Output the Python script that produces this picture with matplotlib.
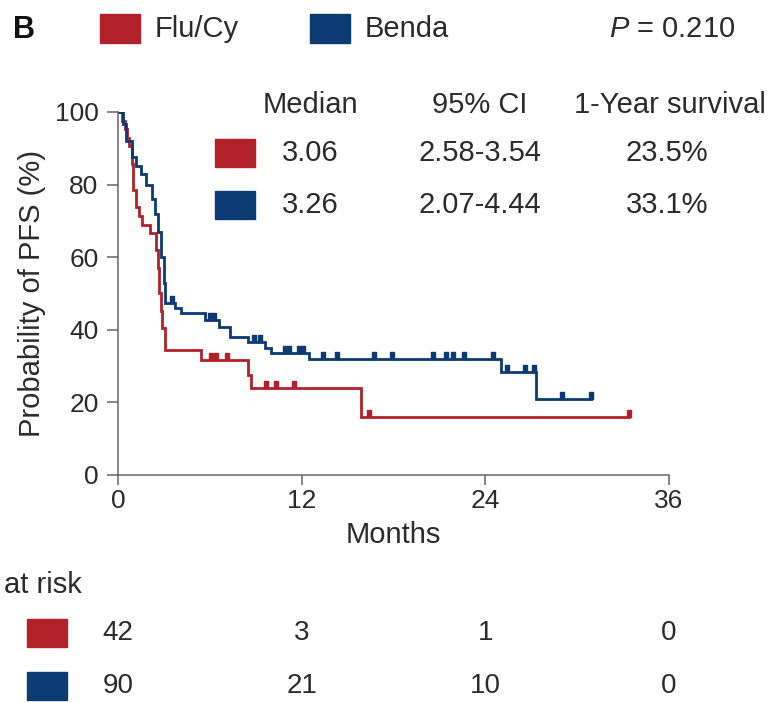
import numpy as np
import matplotlib.pyplot as plt
from matplotlib.path import Path
from matplotlib.patches import Rectangle
from matplotlib.transforms import blended_transform_factory

plt.rcParams['font.family'] = ['Liberation Sans', 'DejaVu Sans']
plt.rcParams['mathtext.fontset'] = 'custom'
plt.rcParams['mathtext.it'] = 'Liberation Sans:italic'
plt.rcParams['mathtext.rm'] = 'Liberation Sans'

RED = '#b2212a'
BLUE = '#0c3a72'
TXT = '#2b2b2b'

# Kaplan-Meier steps (months, % PFS)
flu_t = [0, 0.25, 0.45, 0.6, 0.75, 0.9, 0.95, 1.2, 1.4, 1.6, 2.1, 2.5, 2.6, 2.7, 2.8, 2.9, 3.1, 5.4, 8.5, 8.7, 15.9, 33.4]
flu_s = [100, 97.6, 95.2, 92.9, 90.5, 85.7, 78.6, 73.8, 71.4, 69.0, 66.7, 61.9, 57.1, 50.0, 45.2, 40.5, 34.4, 31.7, 27.5, 24.0, 16.0, 16.0]
flu_cens = [6.1, 6.4, 7.1, 9.7, 10.3, 11.5, 16.4, 33.4]

ben_t = [0, 0.3, 0.5, 0.9, 1.2, 1.5, 1.8, 2.2, 2.4, 2.6, 2.8, 3.0, 3.1, 3.7, 4.1, 5.7, 6.6, 7.3, 8.5, 9.6, 10.0, 12.5, 25.0, 27.3, 30.9]
ben_s = [100, 96.7, 92.0, 87.6, 85.0, 83.0, 80.0, 76.0, 72.0, 67.0, 60.0, 53.0, 47.3, 46.0, 44.6, 42.7, 40.8, 38.0, 36.6, 35.0, 33.6, 31.9, 28.4, 21.0, 21.0]
ben_cens = [3.5, 6.0, 6.3, 8.9, 9.3, 10.9, 11.2, 11.8, 12.1, 13.4, 14.3, 16.7, 17.9, 20.6, 21.4,
            21.9, 22.6, 24.5, 25.4, 26.6, 27.2, 29.0, 30.9]

groups = ['Flu/Cy', 'Benda']
medians = ['3.06', '3.26']
ci95 = ['2.58-3.54', '2.07-4.44']
one_year = ['23.5%', '33.1%']
risk_times = [0, 12, 24, 36]
risk_flu = [42, 3, 1, 0]
risk_ben = [90, 21, 10, 0]
p_value = '0.210'

W, H = 769, 702
fig = plt.figure(figsize=(W / 100, H / 100), dpi=100)


def fx(px):
    return px / W


def fy(py):
    return 1 - py / H


ax = fig.add_axes([fx(118), fy(475), (669 - 118) / W, (475 - 112) / H])


def surv_at(t_steps, s_steps, t):
    idx = np.searchsorted(t_steps, t, side='right') - 1
    return np.asarray(s_steps)[idx]


# censor tick: small block sitting on top of the line
cens_marker = Path([(-0.35, 0), (0.35, 0), (0.35, 1), (-0.35, 1), (-0.35, 0)],
                   [Path.MOVETO, Path.LINETO, Path.LINETO, Path.LINETO, Path.CLOSEPOLY])

for t, s, c, col in [(flu_t, flu_s, flu_cens, RED), (ben_t, ben_s, ben_cens, BLUE)]:
    ax.step(t, s, where='post', color=col, lw=2.0, solid_joinstyle='miter')
    ax.plot(c, surv_at(t, s, c), ls='none', marker=cens_marker, ms=10,
            color=col, mec=col)

ax.set_xlim(0, 36)
ax.set_ylim(0, 100)
ax.set_xticks([0, 12, 24, 36])
ax.set_yticks([0, 20, 40, 60, 80, 100])
for side in ['top', 'right']:
    ax.spines[side].set_visible(False)
for side in ['left', 'bottom']:
    ax.spines[side].set_color('#666666')
    ax.spines[side].set_linewidth(1.1)
ax.tick_params(direction='out', length=7, width=1.1, color='#666666',
               labelsize=19, labelcolor=TXT, pad=3)
ax.tick_params(axis='y', length=8, pad=6)
ax.set_xlabel('Months', fontsize=21, color=TXT, labelpad=6)
ax.set_ylabel('Probability of PFS (%)', fontsize=21, color=TXT, labelpad=6)
ax.patch.set_alpha(0)
for sp in ax.spines.values():
    sp.set_clip_on(False)

# header legend
fig.text(fx(24), fy(30), 'B', fontsize=22, fontweight='bold', color='#111111',
         ha='center', va='center')
for px, col, name in [(100, RED, groups[0]), (310, BLUE, groups[1])]:
    fig.patches.append(Rectangle((fx(px), fy(43)), 40 / W, 29 / H, color=col,
                                 transform=fig.transFigure))
    fig.text(fx(px + 55), fy(29), name, fontsize=21, color=TXT, va='center')
fig.text(fx(735), fy(29), r'$P$ = ' + p_value, fontsize=21, color=TXT,
         ha='right', va='center')

# summary table inside the plot
col_x = [310, 480, 670]
fig.text(fx(col_x[0]), fy(105), 'Median', fontsize=21, color=TXT, ha='center', va='center')
fig.text(fx(col_x[1]), fy(105), '95% CI', fontsize=21, color=TXT, ha='center', va='center')
fig.text(fx(col_x[2]), fy(105), '1-Year survival', fontsize=21, color=TXT, ha='center', va='center')
for row_y, col, med, ci, oy in zip([153, 205], [RED, BLUE], medians, ci95, one_year):
    fig.patches.append(Rectangle((fx(215), fy(row_y + 14)), 40 / W, 28 / H, color=col,
                                 transform=fig.transFigure))
    fig.text(fx(col_x[0]), fy(row_y), med, fontsize=21, color=TXT, ha='center', va='center')
    fig.text(fx(col_x[1]), fy(row_y), ci, fontsize=21, color=TXT, ha='center', va='center')
    fig.text(fx(col_x[2] - 3), fy(row_y), oy, fontsize=21, color=TXT, ha='center', va='center')

# numbers at risk, aligned with the month ticks
fig.text(fx(4), fy(585), 'at risk', fontsize=21, color=TXT, va='center')
trans = blended_transform_factory(ax.transData, fig.transFigure)
for row_y, col, counts in [(633, RED, risk_flu), (686, BLUE, risk_ben)]:
    fig.patches.append(Rectangle((fx(27), fy(row_y + 14)), 40 / W, 28 / H, color=col,
                                 transform=fig.transFigure))
    for t, n in zip(risk_times, counts):
        fig.text(t, fy(row_y), str(n), fontsize=20, color=TXT, ha='center', va='center',
                 transform=trans)

fig.savefig('out.png', dpi=100)
